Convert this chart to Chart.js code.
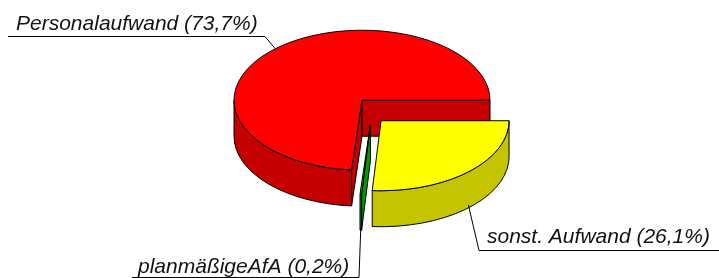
<!DOCTYPE html>
<html><head><meta charset="utf-8">
<script src="https://cdn.jsdelivr.net/npm/chart.js@4.4.1/dist/chart.umd.min.js"></script>
<style>html,body{margin:0;padding:0;background:#fff;overflow:hidden}#wrap{width:719px;height:278px;position:relative}</style>
</head><body><div id="wrap"><canvas id="c"></canvas></div>
<script>
// ---- data ----
const categories = ['sonst. Aufwand', 'planmäßigeAfA', 'Personalaufwand'];
const shares = [26.1, 0.2, 73.7];
const labelTexts = categories.map((c, i) => c + ' (' + shares[i].toFixed(1).replace('.', ',') + '%)');

// ---- style ----
const topColors = ['#FFFF00', '#00CC00', '#FF0000'];
const sideColors = ['#C4C400', '#009A00', '#C40000'];
const SQUASH = 70 / 128;
const DEPTH = 36;
const EXPLODE = 14;
const FONT = 'italic 21px "Liberation Sans", Arial, sans-serif';
// label layout: elbow point, underline end x, text x, baseline y
const labelLayout = [
  { ex: 479, ey: 250.5, ux: 719, tx: 487, ty: 243 },
  { ex: 359, ey: 277.5, ux: 132, tx: 138, ty: 273 },
  { ex: 265, ey: 36.5, ux: 8, tx: 16, ty: 30 }
];

function geom(arc) {
  const p = arc.getProps(['x', 'y', 'startAngle', 'endAngle', 'outerRadius'], true);
  const mid = (p.startAngle + p.endAngle) / 2;
  return { ax: p.x, ay: p.y, cx: p.x + Math.cos(mid) * EXPLODE, cy: p.y + Math.sin(mid) * EXPLODE,
           r: p.outerRadius, a0: p.startAngle, a1: p.endAngle, mid };
}
function pt(g, a, dz) { return [g.cx + g.r * Math.cos(a), g.cy + g.r * SQUASH * Math.sin(a) + dz]; }

function drawSlice(ctx, arc, i) {
  const g = geom(arc);
  ctx.save();
  ctx.lineWidth = 1; ctx.strokeStyle = '#000'; ctx.lineJoin = 'round';
  ctx.fillStyle = sideColors[i];
  // radial walls
  const walls = [];
  if (-Math.cos(g.a0) > 0) walls.push(g.a0);
  if (Math.cos(g.a1) > 0) walls.push(g.a1);
  walls.forEach(a => {
    const p1 = pt(g, a, 0), p2 = pt(g, a, DEPTH);
    ctx.beginPath();
    ctx.moveTo(g.cx, g.cy); ctx.lineTo(p1[0], p1[1]); ctx.lineTo(p2[0], p2[1]);
    ctx.lineTo(g.cx, g.cy + DEPTH); ctx.closePath();
    ctx.fill(); ctx.stroke();
  });
  // outer curved side (visible where sin > 0)
  [[0, Math.PI], [2 * Math.PI, 3 * Math.PI]].forEach(([lo, hi]) => {
    const s = Math.max(lo, g.a0), e = Math.min(hi, g.a1);
    if (e <= s) return;
    const ps = pt(g, s, 0), pe = pt(g, e, DEPTH);
    ctx.beginPath();
    ctx.moveTo(ps[0], ps[1]);
    ctx.ellipse(g.cx, g.cy, g.r, g.r * SQUASH, 0, s, e, false);
    ctx.lineTo(pe[0], pe[1]);
    ctx.ellipse(g.cx, g.cy + DEPTH, g.r, g.r * SQUASH, 0, e, s, true);
    ctx.closePath();
    ctx.fill(); ctx.stroke();
  });
  // top face via library arc element
  ctx.save();
  ctx.translate(g.cx, g.cy);
  ctx.scale(1, SQUASH);
  ctx.translate(-g.ax, -g.ay);
  arc.draw(ctx);
  ctx.restore();
  const p0 = pt(g, g.a0, 0);
  ctx.beginPath();
  ctx.moveTo(g.cx, g.cy); ctx.lineTo(p0[0], p0[1]);
  ctx.ellipse(g.cx, g.cy, g.r, g.r * SQUASH, 0, g.a0, g.a1, false);
  ctx.closePath();
  ctx.stroke();
  ctx.restore();
}

const pie3d = {
  id: 'pie3d',
  beforeDatasetsDraw(chart) {
    const ctx = chart.ctx;
    const arcs = chart.getDatasetMeta(0).data;
    const order = arcs.map((a, i) => i).sort((a, b) => geom(arcs[a]).cy - geom(arcs[b]).cy);
    order.forEach(i => drawSlice(ctx, arcs[i], i));
    return false;
  },
  afterDraw(chart) {
    const ctx = chart.ctx;
    const arcs = chart.getDatasetMeta(0).data;
    ctx.save();
    ctx.lineWidth = 1; ctx.strokeStyle = '#000';
    ctx.font = FONT; ctx.fillStyle = '#111'; ctx.textBaseline = 'alphabetic'; ctx.textAlign = 'left';
    arcs.forEach((arc, i) => {
      const g = geom(arc);
      const front = Math.sin(g.mid) > 0;
      const a = pt(g, g.mid, front ? DEPTH - 3 : 0);
      const L = labelLayout[i];
      ctx.beginPath();
      ctx.moveTo(a[0], a[1]); ctx.lineTo(L.ex, L.ey); ctx.lineTo(L.ux, L.ey);
      ctx.stroke();
      ctx.fillText(labelTexts[i], L.tx, L.ty);
    });
    ctx.restore();
  }
};

new Chart(document.getElementById('c'), {
  type: 'pie',
  data: {
    labels: categories,
    datasets: [{ data: shares, backgroundColor: topColors, borderWidth: 0 }]
  },
  options: {
    responsive: true, maintainAspectRatio: false, animation: false, events: [],
    rotation: 90, radius: 128,
    layout: { padding: { left: 24, right: 0, top: 0, bottom: 57 } },
    plugins: { legend: { display: false }, tooltip: { enabled: false } }
  },
  plugins: [pie3d]
});
</script></body></html>
